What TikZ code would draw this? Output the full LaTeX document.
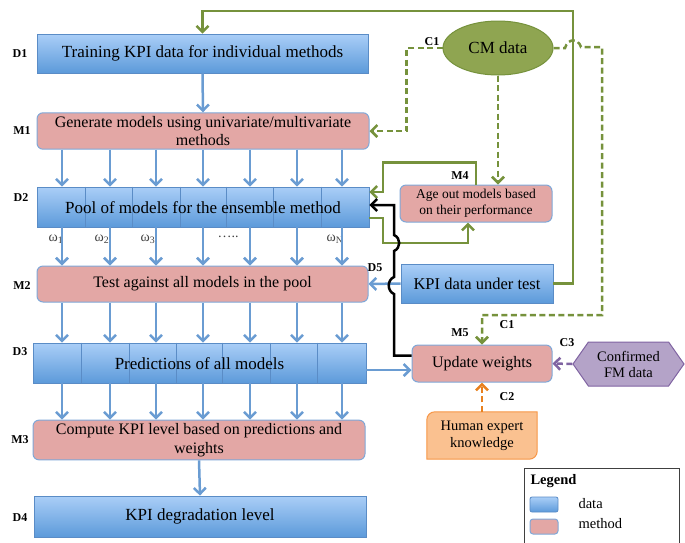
\documentclass[tikz,border=0pt]{standalone}
\usepackage{fontspec}
\setmainfont{Liberation Serif}
\usepackage{tikz}
\usetikzlibrary{shapes.geometric, shapes.symbols}
\usetikzlibrary{arrows.meta}
\definecolor{datatop}{HTML}{AACEF7}
\definecolor{databot}{HTML}{5C9ADA}
\definecolor{dataedge}{HTML}{5A8CC6}
\definecolor{methfill}{HTML}{E3A7A5}
\definecolor{methedge}{HTML}{7FA8D8}
\definecolor{flowblue}{HTML}{6A9CD2}
\definecolor{cmgreen}{HTML}{76923C}
\definecolor{cmfill}{HTML}{8FA551}
\definecolor{fmfill}{HTML}{B4A3C8}
\definecolor{fmedge}{HTML}{8064A2}
\definecolor{hefill}{HTML}{FAC190}
\definecolor{heedge}{HTML}{F79646}
\definecolor{hearrow}{HTML}{E8801E}
\tikzstyle{data} = [rectangle, top color=datatop, bottom color=databot, draw=dataedge, line width=0.8, text centered, font=\fontsize{17}{19}\selectfont]
\tikzstyle{method} = [rectangle, rounded corners=6, fill=methfill, draw=methedge, line width=1, align=center, font=\fontsize{16}{18.5}\selectfont]
\tikzstyle{tag} = [font=\fontsize{12}{14}\selectfont\bfseries]
\tikzstyle{wt} = [font=\fontsize{14}{16}\selectfont, text=black!75]
\tikzstyle{flow} = [line width=2.5, draw=flowblue, -{Straight Barb[length=6pt,width=12pt]}]
\tikzstyle{cmline} = [line width=2.5, draw=cmgreen, -{Straight Barb[length=6pt,width=12pt]}]
\tikzstyle{cmdash} = [cmline, dash pattern=on 6pt off 3.5pt]
\tikzstyle{feedback} = [line width=2.5, draw=black, -{Straight Barb[length=6pt,width=12pt]}]
\tikzstyle{fmdash} = [line width=2.5, draw=fmedge, dash pattern=on 6pt off 3.5pt, -{Straight Barb[length=6pt,width=12pt]}]
\tikzstyle{hedash} = [line width=2.5, draw=hearrow, dash pattern=on 6pt off 3.5pt, -{Straight Barb[length=6pt,width=12pt]}]

\begin{document}
\begin{tikzpicture}[x=1pt, y=-1pt]
                    \useasboundingbox (0,0) rectangle (685,542);

                    \node (d1) [data, minimum width=331, minimum height=39] at (202.5,53.5) {Training KPI data for individual methods};
                    \node (m1) [method, minimum width=332, minimum height=36] at (203,131) {Generate models using univariate/multivariate\\methods};
                    \node (d2) [data, minimum width=332, minimum height=40] at (203,207) {};
                    \node (m2) [method, minimum width=331, minimum height=36] at (202.5,284) {Test against all models in the pool};
                    \node (d3) [data, minimum width=333, minimum height=40] at (199.5,363) {};
                    \node (m3) [method, minimum width=332, minimum height=36] at (199,440) {Compute KPI level based on predictions and\\weights};
                    \node (d4) [data, minimum width=332, minimum height=41] at (200,516.5) {KPI degradation level};

                    \foreach \x in {85,132,180,226,273,321}
                        \draw[dataedge, line width=0.6] (d2.north -| \x,0) -- (d2.south -| \x,0);
                    \foreach \x in {81,129,176,222,270,317}
                        \draw[dataedge, line width=0.6] (d3.north -| \x,0) -- (d3.south -| \x,0);
                    \node (d2t) [font=\fontsize{17}{19}\selectfont] at ([yshift=-1]d2) {Pool of models for the ensemble method};
                    \node (d3t) [font=\fontsize{17}{19}\selectfont] at ([yshift=-1]d3) {Predictions of all models};

                    \node (cm) [ellipse, fill=cmfill, draw=cmgreen, line width=1, minimum width=110, minimum height=54, font=\fontsize{17}{19}\selectfont] at (498,48) {CM data};
                    \node (m4) [method, minimum width=152, minimum height=37, font=\fontsize{13.5}{16}\selectfont] at (476,203.5) {Age out models based\\on their performance};
                    \node (d5) [data, minimum width=152, minimum height=39, font=\fontsize{16.5}{19}\selectfont] at (477,283.5) {KPI data under test};
                    \node (m5) [method, minimum width=140, minimum height=37] at (482,363.5) {Update weights};
                    \node (fm) [signal, signal to=west and east, signal pointer angle=110, fill=fmfill, draw=fmedge, line width=1, minimum width=111, minimum height=44, align=center, font=\fontsize{14.5}{16}\selectfont] at (628.5,364) {Confirmed\\FM data};
                    \node (he) [minimum width=110, minimum height=47] at (482,435.5) {};
                    \draw[fill=hefill, draw=heedge, line width=1] (he.south west) -- ([yshift=-8]he.north west) arc[start angle=180, end angle=90, radius=8pt] -- (he.north east) -- ([yshift=8]he.south east) arc[start angle=0, end angle=-90, radius=8pt] -- cycle;
                    \node (het) [align=center, font=\fontsize{14.5}{17}\selectfont] at (he) {Human expert\\knowledge};

                    \node (t1) [tag] at (20,54) {D1};
                    \node (t2) [tag] at (22,131) {M1};
                    \node (t3) [tag] at (21,198) {D2};
                    \node (t4) [tag] at (22,286) {M2};
                    \node (t5) [tag] at (20,352) {D3};
                    \node (t6) [tag] at (20,440) {M3};
                    \node (t7) [tag] at (20,518) {D4};
                    \node (t8) [tag] at (460,176) {M4};
                    \node (t9) [tag] at (375,268) {D5};
                    \node (t10) [tag] at (460,333) {M5};
                    \node (t11) [tag] at (432,42) {C1};
                    \node (t12) [tag] at (507,325) {C1};
                    \node (t13) [tag] at (567,343) {C3};
                    \node (t14) [tag] at (507,397) {C2};

                    \node (w1) [wt] at (56,239) {ω\textsubscript{1}};
                    \node (w2) [wt] at (102,239) {ω\textsubscript{2}};
                    \node (w3) [wt] at (148,239) {ω\textsubscript{3}};
                    \node (w4) [wt] at (228,237) {…..};
                    \node (w5) [wt] at (335,239) {ω\textsubscript{N}};

                    \node (lg) [anchor=west, font=\fontsize{14.5}{16}\selectfont\bfseries] at (527,481) {Legend};
                    \node (sw1) [data, minimum width=28, minimum height=15, rounded corners=2] at (544,504.5) {};
                    \node (sw2) [method, minimum width=28, minimum height=15, rounded corners=3] at (544,526.5) {};
                    \node (lt1) [anchor=west, font=\fontsize{14.5}{16}\selectfont] at (575,504) {data};
                    \node (lt2) [anchor=west, font=\fontsize{14.5}{16}\selectfont] at (575,524) {method};
                    \draw[line width=0.8, black!75] (524,545) |- (679,468) -- (679,545);

                    \draw[flow] (d1.south) -- (m1.north);
                    \foreach \x in {62,110,156,203,250,297,342} {
                        \draw[flow] (m1.south -| \x,0) -- (d2.north -| \x,0);
                        \draw[flow] (d2.south -| \x,0) -- (m2.north -| \x,0);
                        \draw[flow] (m2.south -| \x,0) -- (d3.north -| \x,0);
                        \draw[flow] (d3.south -| \x,0) -- (m3.north -| \x,0);
                    }
                    \draw[flow] (m3.south) -- (d4.north);
                    \draw[flow] (d5.west) -- (m2.east);
                    \draw[flow] ([yshift=-7]d3.east) -- ([yshift=-7]d3.east -| m5.west);
                    \draw[cmline] (d5.east) -| (573,11) -| (d1.north);
                    \draw[cmdash] (cm.west) -| ([xshift=37]m1.east) -- (m1.east);
                    \draw[cmdash] (cm.south) -- (cm.south |- m4.north);
                    \draw[cmdash] (cm.east) -- (565,48) .. controls (568,38) and (578,38) .. (581,47) -- (602,47) |- (m5.north |- 0,315) -- (m5.north);
                    \draw[cmline] (m4.north) -- ++(0,-22) -| (383,192) -- (d2.east |- 0,192);
                    \draw[cmline] (d2.east |- 0,218) -| (383,243) -| ([xshift=-8]m4.south);
                    \draw[feedback] ([yshift=8]m5.west) -- (394,355.5) -- (394,294) .. controls (387,291) and (387,280) .. (394,277) -- (394,251) .. controls (401,248) and (401,238) .. (394,235) -- (394,205) -- (d2.east |- 0,205);
                    \draw[fmdash] (fm.west) -- (m5.east);
                    \draw[hedash] (he.north) -- (m5.south);
                \end{tikzpicture}
\end{document}
